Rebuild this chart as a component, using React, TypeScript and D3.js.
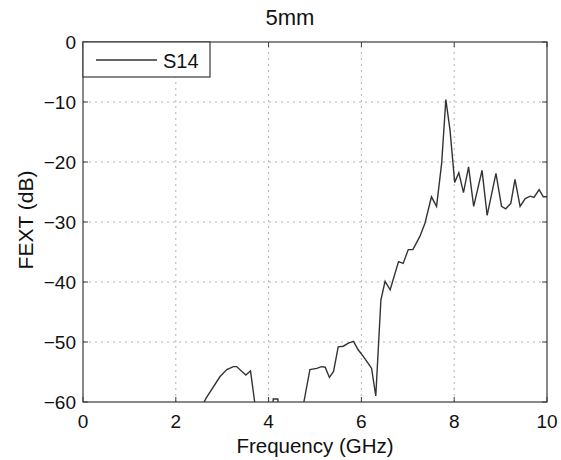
import { useMemo } from "react";
import * as d3 from "d3";

// values
const freqGHz = [
  2.55, 2.65, 2.95, 3.1, 3.24, 3.31, 3.51, 3.61, 3.7, 3.75, 4.08, 4.1, 4.2,
  4.22, 4.72, 4.76, 4.89, 5.04, 5.14, 5.22, 5.31, 5.4, 5.5, 5.61, 5.72, 5.83,
  5.93, 6.04, 6.15, 6.22, 6.31, 6.42, 6.51, 6.62, 6.8, 6.9, 7.01, 7.11, 7.26,
  7.37, 7.51, 7.62, 7.73, 7.82, 7.91, 8.01, 8.1, 8.2, 8.31, 8.42, 8.6, 8.71,
  8.9, 9.02, 9.11, 9.22, 9.31, 9.42, 9.53, 9.64, 9.72, 9.83, 9.92, 10,
];
const s14 = [
  -61, -59.4, -55.8, -54.6, -54.1, -54.1, -55.5, -54.8, -60, -62, -62, -59.5,
  -59.5, -62, -62, -60, -54.6, -54.4, -54.1, -54.2, -55.9, -54.9, -50.8, -50.7,
  -50.2, -49.9, -51.3, -52.4, -53.6, -54.4, -59, -43, -39.9, -41.3, -36.6,
  -36.9, -34.6, -34.6, -32.4, -30.2, -25.8, -27.4, -20.2, -9.6, -14.7, -23.4,
  -21.8, -25.1, -20.8, -27.4, -21.4, -28.9, -21.9, -27.4, -27.8, -26.9, -22.9,
  -27.4, -26.1, -25.7, -25.9, -24.6, -25.8, -25.8,
];
const xTicks = [0, 2, 4, 6, 8, 10];
const yTicks = [0, -10, -20, -30, -40, -50, -60];

const W = 561;
const H = 460;
const M = { top: 42, right: 14, bottom: 58, left: 83 };

export default function App() {
  const x = d3.scaleLinear().domain([0, 10]).range([M.left, W - M.right]);
  const y = d3.scaleLinear().domain([-60, 0]).range([H - M.bottom, M.top]);

  const path = useMemo(() => {
    const line = d3
      .line<number>()
      .x((d, i) => x(freqGHz[i]))
      .y((d) => y(d));
    return line(s14) || "";
  }, []);

  const font = "'Liberation Sans', Arial, Helvetica, sans-serif";
  const axisColor = "#3a3a3a";
  const gridColor = "#a8a8a8";
  const tick = 5;
  const fmt = (v: number) => (v < 0 ? `\u2212${Math.abs(v)}` : `${v}`);

  return (
    <svg
      width={W}
      height={H}
      style={{ position: "absolute", left: 0, top: 0, background: "#fff" }}
      fontFamily={font}
    >
      <defs>
        <clipPath id="plot">
          <rect x={M.left} y={M.top} width={W - M.left - M.right} height={H - M.top - M.bottom} />
        </clipPath>
      </defs>

      {/* grid */}
      {xTicks.slice(1, -1).map((t) => (
        <line key={"gx" + t} x1={x(t)} x2={x(t)} y1={y(-60)} y2={y(0)}
          stroke={gridColor} strokeWidth={0.9} strokeDasharray="2,4" />
      ))}
      {yTicks.slice(1, -1).map((t) => (
        <line key={"gy" + t} x1={x(0)} x2={x(10)} y1={y(t)} y2={y(t)}
          stroke={gridColor} strokeWidth={0.9} strokeDasharray="2,4" />
      ))}

      {/* data */}
      <path d={path} fill="none" stroke="#333" strokeWidth={1.4} clipPath="url(#plot)" />

      {/* ticks (inside, all four sides) */}
      {xTicks.map((t) => (
        <g key={"tx" + t} stroke={axisColor} strokeWidth={1}>
          <line x1={x(t)} x2={x(t)} y1={y(-60)} y2={y(-60) - tick} />
          <line x1={x(t)} x2={x(t)} y1={y(0)} y2={y(0) + tick} />
        </g>
      ))}
      {yTicks.map((t) => (
        <g key={"ty" + t} stroke={axisColor} strokeWidth={1}>
          <line x1={x(0)} x2={x(0) + tick} y1={y(t)} y2={y(t)} />
          <line x1={x(10)} x2={x(10) - tick} y1={y(t)} y2={y(t)} />
        </g>
      ))}

      {/* box */}
      <rect x={x(0)} y={y(0)} width={x(10) - x(0)} height={y(-60) - y(0)}
        fill="none" stroke={axisColor} strokeWidth={1.2} />

      {/* tick labels */}
      {xTicks.map((t) => (
        <text key={"lx" + t} x={x(t)} y={y(-60) + 26} textAnchor="middle" fontSize={19} fill="#111">
          {t}
        </text>
      ))}
      {yTicks.map((t) => (
        <text key={"ly" + t} x={x(0) - 7} y={y(t) + 6.5} textAnchor="end" fontSize={19} fill="#111">
          {fmt(t)}
        </text>
      ))}

      {/* legend */}
      <rect x={x(0)} y={y(0)} width={127} height={35} fill="#fff" stroke={axisColor} strokeWidth={1.2} />
      <line x1={x(0) + 13} x2={x(0) + 74} y1={y(0) + 18} y2={y(0) + 18} stroke="#333" strokeWidth={1.4} />
      <text x={x(0) + 80} y={y(0) + 26} fontSize={20} fill="#111">S14</text>

      {/* titles */}
      <text x={290} y={25} textAnchor="middle" fontSize={22} fill="#111">5mm</text>
      <text x={(x(0) + x(10)) / 2} y={453} textAnchor="middle" fontSize={20.5} fill="#111">
        Frequency (GHz)
      </text>
      <text transform={`translate(33,220) rotate(-90)`} textAnchor="middle" fontSize={21} fill="#111">
        FEXT (dB)
      </text>
    </svg>
  );
}
